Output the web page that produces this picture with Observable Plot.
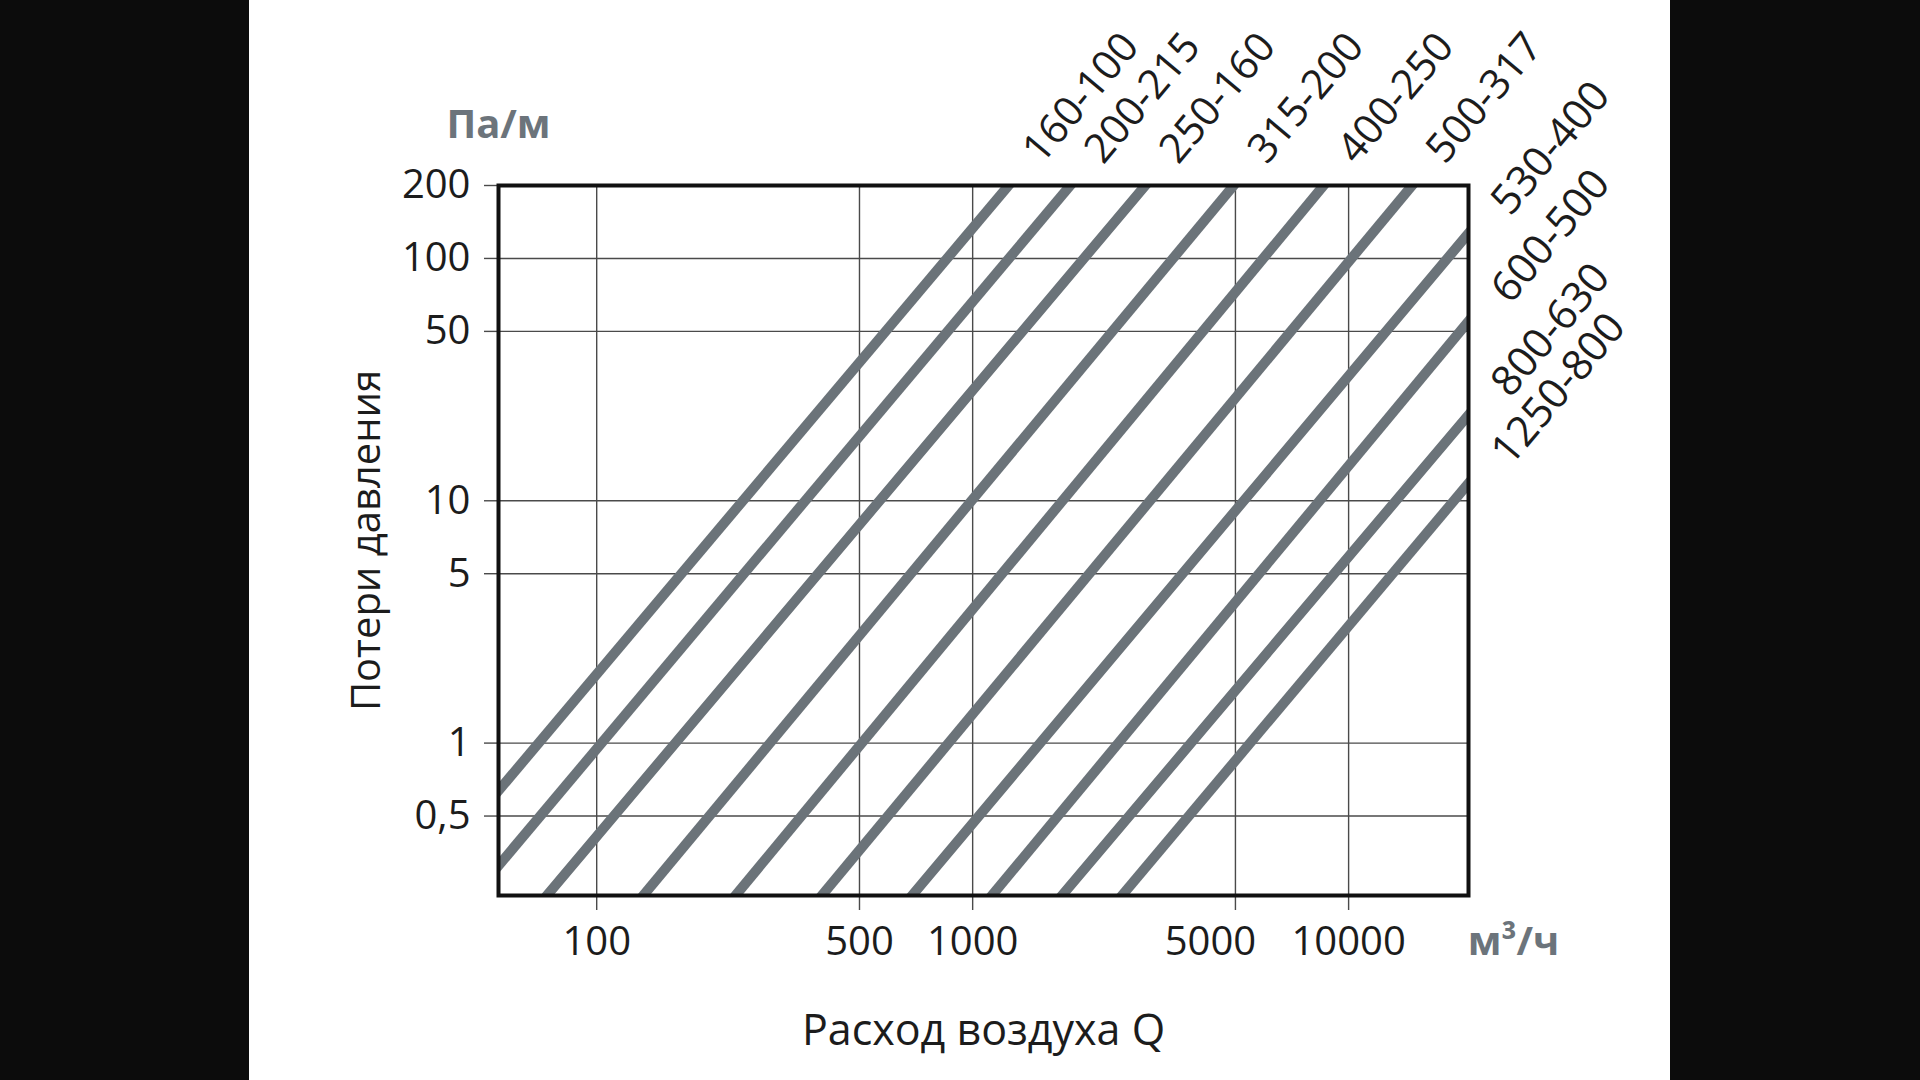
<!DOCTYPE html>
<html>
<head>
<meta charset="utf-8">
<script src="https://cdn.jsdelivr.net/npm/d3@7"></script>
<script src="https://cdn.jsdelivr.net/npm/@observablehq/plot@0.6"></script>
<style>
  html, body { margin: 0; padding: 0; background: #0c0c0c; width: 1920px; height: 1080px; overflow: hidden; }
  #chart { position: absolute; left: 249px; top: 0; width: 1421px; height: 1080px; background: #ffffff; }
</style>
</head>
<body>
<div id="chart"></div>
<script>
// Duct sizes (series labels)
const series = ["160-100", "200-215", "250-160", "315-200", "400-250", "500-317", "530-400", "600-500", "800-630", "1250-800"];
// Start point of each line (air flow m³/h, pressure loss Pa/m)
const qStart  = [54.8, 54.8, 73.7, 133, 234, 397, 690, 1125, 1728, 2496];
const dpStart = [0.636, 0.312, 0.235, 0.235, 0.235, 0.235, 0.235, 0.235, 0.235, 0.235];
// End point of each line
const qEnd  = [1246, 1818, 2879, 4945, 8580, 14750, 20840, 20840, 20840, 20840];
const dpEnd = [200, 200, 200, 200, 200, 200, 127, 55, 22.6, 11.8];
// Axis ticks
const xTicks = [100, 500, 1000, 5000, 10000];
const yTicks = [0.5, 1, 5, 10, 50, 100, 200];
const xDomain = [54.8, 20840];
const yDomain = [0.235, 200];

const points = series.flatMap((s, i) => [
  {s, q: qStart[i], dp: dpStart[i]},
  {s, q: qEnd[i], dp: dpEnd[i]}
]);
const ends = series.map((s, i) => ({s, q: qEnd[i], dp: dpEnd[i]}));
const topEnds = ends.filter(d => d.dp >= yDomain[1]);
const sideEnds = ends.filter(d => d.dp < yDomain[1]);
// the 5000 label is nudged left in the original so it does not crowd 10000
const xLabelsCentered = xTicks.filter(d => d !== 5000);
const xLabelsShifted = xTicks.filter(d => d === 5000);

const gridColor = "#4a4a4a";
const textColor = "#1c1c1c";
const unitColor = "#6c747b";

const chart = Plot.plot({
  width: 1421,
  height: 1080,
  marginLeft: 249,
  marginRight: 202,
  marginTop: 185,
  marginBottom: 185,
  style: {fontFamily: "'Open Sans', sans-serif", fontSize: "40px", background: "#ffffff", color: textColor},
  x: {type: "log", domain: xDomain},
  y: {type: "log", domain: yDomain},
  marks: [
    Plot.gridX(xTicks, {stroke: gridColor, strokeOpacity: 1, strokeWidth: 1.4}),
    Plot.gridY(yTicks, {stroke: gridColor, strokeOpacity: 1, strokeWidth: 1.4}),
    Plot.axisX({ticks: xTicks, tickSize: 15, text: null, stroke: gridColor, strokeWidth: 1.4, label: null}),
    Plot.axisY({ticks: yTicks, tickSize: 14, text: null, stroke: gridColor, strokeWidth: 1.4, label: null}),
    Plot.text(xLabelsCentered, {x: d => d, text: d => String(d), frameAnchor: "bottom", dy: 47,
      textAnchor: "middle", lineAnchor: "middle", fontSize: 40, fill: textColor}),
    Plot.text(xLabelsShifted, {x: d => d, text: d => String(d), frameAnchor: "bottom", dy: 47, dx: -25,
      textAnchor: "middle", lineAnchor: "middle", fontSize: 40, fill: textColor}),
    Plot.text(yTicks, {y: d => d, text: d => String(d).replace(".", ","), frameAnchor: "left", dx: -28,
      textAnchor: "end", lineAnchor: "middle", fontSize: 40, fill: textColor}),
    Plot.line(points, {x: "q", y: "dp", z: "s", stroke: "#6b7379", strokeWidth: 10,
      strokeLinecap: "square", clip: true}),
    Plot.frame({stroke: "#111", strokeWidth: 4}),
    Plot.text(topEnds, {x: "q", y: "dp", text: "s", rotate: -50, textAnchor: "start", lineAnchor: "bottom",
      dx: 33, dy: -20, fontSize: 41, fill: textColor}),
    Plot.text(sideEnds, {x: "q", y: "dp", text: "s", rotate: -50, textAnchor: "start", lineAnchor: "bottom",
      dx: 42, dy: -16, fontSize: 42, fill: textColor}),
    Plot.text(["Па/м"], {frameAnchor: "top-left", dy: -60, textAnchor: "middle", lineAnchor: "middle",
      fontSize: 40, fontWeight: "bold", fill: unitColor}),
    Plot.text(["м³/ч"], {frameAnchor: "bottom-right", dx: 45, dy: 47, textAnchor: "middle", lineAnchor: "middle",
      fontSize: 40, fontWeight: "bold", fill: unitColor}),
    Plot.text(["Расход воздуха Q"], {frameAnchor: "bottom", dy: 136, textAnchor: "middle", lineAnchor: "middle",
      fontSize: 43, fill: textColor}),
    Plot.text(["Потери давления"], {frameAnchor: "left", dx: -131, rotate: -90, textAnchor: "middle",
      lineAnchor: "middle", fontSize: 40, fill: textColor})
  ]
});
document.getElementById("chart").appendChild(chart);
</script>
</body>
</html>
